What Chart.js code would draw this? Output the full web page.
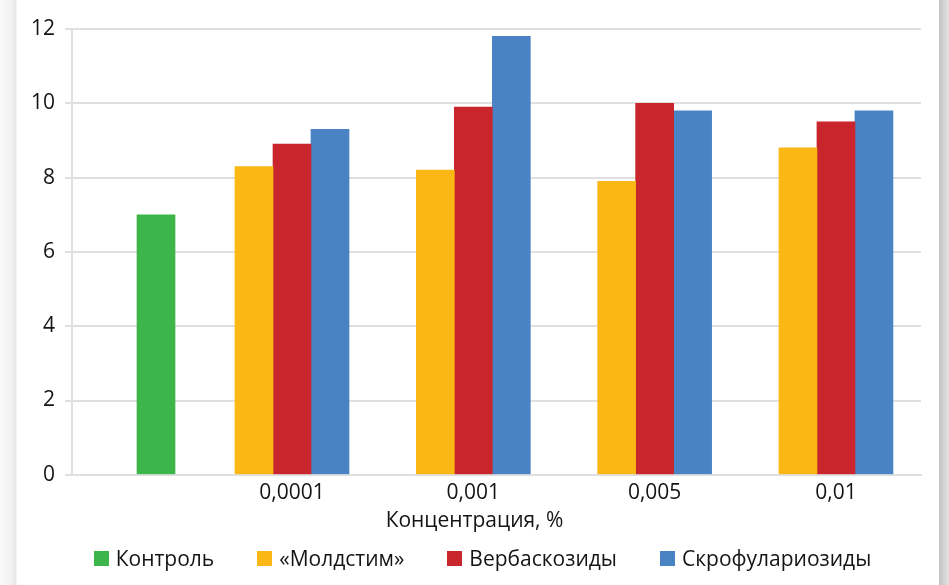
<!DOCTYPE html>
<html>
<head>
<meta charset="utf-8">
<script src="https://cdn.jsdelivr.net/npm/chart.js@4/dist/chart.umd.min.js"></script>
<style>
  html, body { margin: 0; padding: 0; background: #fff; }
  #frame {
    position: relative;
    width: 949px;
    height: 585px;
    background: linear-gradient(to right,
      #fafafa 0px, #f1f1f1 11px, #e7e7e7 16px, #ffffff 17px,
      #ffffff 939px, #c2c2c2 939px, #d3d3d3 944px, #e2e2e2 949px);
    font-family: 'Open Sans', sans-serif;
  }
  canvas { display: block; position: absolute; left: 0; top: 0; }
  #legend {
    position: absolute;
    left: 16px;
    right: 0;
    top: 546px;
    height: 24px;
    display: flex;
    justify-content: center;
    align-items: center;
    font-size: 21px;
    line-height: 24px;
    color: #141414;
    white-space: nowrap;
  }
  #legend .item { display: flex; align-items: center; margin: 0 21.5px; }
  #legend .box { width: 15px; height: 15px; margin-right: 7px; flex: none; }
</style>
</head>
<body>
<div id="frame">
  <canvas id="chart" width="949" height="585"></canvas>
  <div id="legend"></div>
</div>
<script>
// Concentrations of the treated groups
const categories = ['0,0001', '0,001', '0,005', '0,01'];
// Control value (no treatment)
const controlValues = [7.0];
// Treatment series, one value per concentration
const moldstim = [8.3, 8.2, 7.9, 8.8];
const verbascosides = [8.9, 9.9, 10.0, 9.5];
const scrophulariosides = [9.3, 11.8, 9.8, 9.8];
// Value axis ticks
const yTicks = [0, 2, 4, 6, 8, 10, 12];
// Series names and axis title
const seriesNames = ['Контроль', '«Молдстим»', 'Вербаскозиды', 'Скрофулариозиды'];
const axisTitle = 'Концентрация, %';

const colors = ['#3cb54a', '#fbb715', '#c8252c', '#4a83c3'];
const FONT = 'Open Sans';
const TEXT = '#141414';
const GRID = '#e0e0e0';

// The control bar stands on its own, three quarters of a step before the first group.
const CONTROL_POS = 0.25;

Chart.defaults.font.family = FONT;
Chart.defaults.font.size = 21;
Chart.defaults.color = TEXT;

const toPoints = values => values.map((v, i) => ({ x: i + 1, y: v }));

// Legend rendered as HTML from the chart's own legend items
const htmlLegend = {
  id: 'htmlLegend',
  afterUpdate(chart) {
    const host = document.getElementById('legend');
    host.innerHTML = '';
    const items = chart.options.plugins.legend.labels.generateLabels(chart);
    items.forEach(item => {
      const el = document.createElement('span');
      el.className = 'item';
      const box = document.createElement('span');
      box.className = 'box';
      box.style.background = item.fillStyle;
      const txt = document.createElement('span');
      txt.textContent = item.text;
      el.appendChild(box);
      el.appendChild(txt);
      host.appendChild(el);
    });
  }
};

new Chart(document.getElementById('chart'), {
  type: 'bar',
  data: {
    datasets: [
      { label: seriesNames[0], data: controlValues.map(v => ({ x: CONTROL_POS, y: v })),
        backgroundColor: colors[0], grouped: false },
      { label: seriesNames[1], data: toPoints(moldstim), backgroundColor: colors[1] },
      { label: seriesNames[2], data: toPoints(verbascosides), backgroundColor: colors[2] },
      { label: seriesNames[3], data: toPoints(scrophulariosides), backgroundColor: colors[3] }
    ]
  },
  plugins: [htmlLegend],
  options: {
    responsive: false,
    animation: false,
    devicePixelRatio: 1,
    datasets: { bar: { barThickness: 38, borderWidth: 0 } },
    layout: { padding: { left: 28, right: 28, top: 29, bottom: 46 } },
    scales: {
      x: {
        type: 'linear',
        min: -0.2133,
        max: 4.469,
        offset: false,
        grid: { display: false, drawTicks: false, offset: false },
        border: { display: true, color: GRID, width: 2 },
        afterBuildTicks: s => { s.ticks = categories.map((_, i) => ({ value: i + 1 })); },
        afterFit: s => { s.height = 32; },
        ticks: {
          autoSkip: false,
          maxRotation: 0,
          padding: 6,
          color: TEXT,
          font: { size: 21 },
          callback: v => categories[v - 1] ?? ''
        }
      },
      y: {
        min: 0,
        max: 12,
        afterBuildTicks: s => { s.ticks = yTicks.map(v => ({ value: v })); },
        afterFit: s => { s.width = 44; },
        grid: { color: GRID, lineWidth: 2, tickLength: 7, drawTicks: true },
        border: { display: true, color: GRID, width: 2 },
        ticks: { padding: 10, color: TEXT, font: { size: 21 } }
      }
    },
    plugins: {
      tooltip: { enabled: false },
      legend: { display: false },
      title: {
        display: true,
        text: axisTitle,
        position: 'bottom',
        color: TEXT,
        font: { size: 21, weight: 'normal' },
        padding: { top: 2, bottom: 5 }
      }
    }
  }
});
</script>
</body>
</html>
